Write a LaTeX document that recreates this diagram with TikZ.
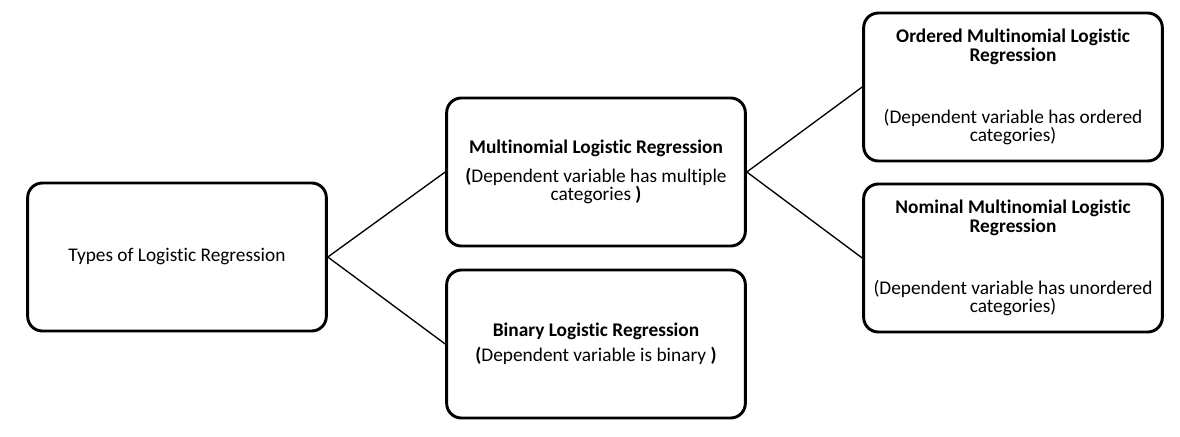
\documentclass[tikz,border=0pt]{standalone}
\usepackage{fontspec}
\setmainfont{Carlito}[Ligatures={NoCommon}]

\begin{document}
\begin{tikzpicture}[x=0.75pt,y=-0.75pt,font=\fontsize{14.5}{13.6}\selectfont,
        box node/.style={draw,rounded corners=11pt,line width=2.2pt,minimum width=224pt,
        minimum height=111pt,align=center,inner sep=0pt},
        link/.style={line width=1pt}]
        \useasboundingbox (0,0) rectangle (1180,436);
        \node[box node] (types) at (177,257) {Types of Logistic Regression};
        \node[box node] (multi) at (596,172) {\textbf{Multinomial Logistic Regression}\\[7.5pt]
                \textbf{(}Dependent variable has multiple\\categories \textbf{)}};
        \node[box node] (binary) at (596,344) {\textbf{Binary Logistic Regression}\\[5pt]
                \textbf{(}Dependent variable is binary \textbf{)}};
        \node[box node] (ordered) at (1013,87) {\textbf{Ordered Multinomial Logistic}\\\textbf{Regression}\\[33pt]
                (Dependent variable has ordered\\categories)};
        \node[box node] (nominal) at (1013,258) {\textbf{Nominal Multinomial Logistic}\\\textbf{Regression}\\[33pt]
                (Dependent variable has unordered\\categories)};
        
        \path[link]
        (types.east) edge (multi.west)
        (types.east) edge (binary.west)
        (multi.east) edge (ordered.west)
        (multi.east) edge (nominal.west);
    \end{tikzpicture}
\end{document}
